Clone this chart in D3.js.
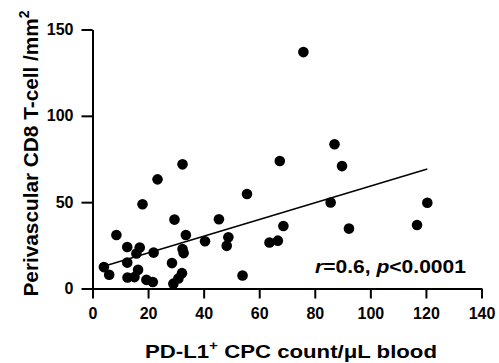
<!DOCTYPE html>
<html>
<head>
    <meta charset="utf-8">
    <script src="https://d3js.org/d3.v7.min.js"></script>
    <style>
        body { margin: 0; background: white; }
        text { font-family: "Liberation Sans", Arial, sans-serif; font-weight: bold; }
    </style>
</head>
<body>
    <div id="my_dataviz"></div>
    <script>
        // PD-L1+ CPC count per uL blood
        var cpcCount = [4.1, 6.0, 8.6, 12.5, 12.5, 12.6, 15.1, 15.8, 17.0, 16.4,
            18.0, 19.4, 21.7, 22.0, 23.4, 28.6, 29.1, 30.9, 32.2, 29.5,
            32.4, 32.4, 32.8, 33.6, 40.5, 45.5, 48.9, 48.3, 54.0, 55.6,
            63.7, 66.7, 67.4, 68.7, 75.9, 85.7, 87.1, 89.8, 92.3, 116.8, 120.5];
        // perivascular CD8 T-cell per mm2
        var cd8Density = [12.4, 8.0, 31.0, 24.0, 15.0, 6.4, 6.6, 20.3, 23.7, 10.8,
            48.8, 5.0, 3.8, 20.8, 63.2, 14.7, 2.8, 5.8, 8.9, 39.9,
            71.9, 22.9, 20.5, 31.0, 27.4, 40.1, 29.7, 24.7, 7.5, 54.7,
            26.6, 27.7, 73.8, 36.2, 136.9, 49.8, 83.5, 70.9, 34.7, 36.8, 49.7];

        // fitted line end points
        var fitX = [4.1, 120.5];
        var fitY = [12.9, 69.2];

        var xTicks = [0, 20, 40, 60, 80, 100, 120, 140];
        var yTicks = [0, 50, 100, 150];

        var margin = { top: 29.5, right: 17.5, bottom: 74.5, left: 92.5 },
            width = 499 - margin.left - margin.right,
            height = 363 - margin.top - margin.bottom;

        var svg = d3.select("#my_dataviz")
            .append("svg")
            .attr("width", 499)
            .attr("height", 363)
            .append("g")
            .attr("transform", "translate(" + margin.left + "," + margin.top + ")");

        var x = d3.scaleLinear().domain([0, 140]).range([0, width]);
        var y = d3.scaleLinear().domain([0, 150]).range([height, 0]);

        // axes
        var xAxis = svg.append("g")
            .attr("transform", "translate(0," + height + ")")
            .call(d3.axisBottom(x).tickValues(xTicks).tickSize(10).tickSizeOuter(0).tickPadding(9));
        var yAxis = svg.append("g")
            .call(d3.axisLeft(y).tickValues(yTicks).tickSize(11).tickSizeOuter(0).tickPadding(8));

        [xAxis, yAxis].forEach(function (a) {
            a.selectAll("path, line").attr("stroke", "black").attr("stroke-width", 2);
            a.selectAll("text").attr("fill", "black").style("font-size", "16px");
        });

        // points
        svg.selectAll("circle")
            .data(cpcCount)
            .enter()
            .append("circle")
            .attr("cx", function (d) { return x(d) })
            .attr("cy", function (d, i) { return y(cd8Density[i]) })
            .attr("r", 5.3)
            .attr("fill", "black");

        // regression line
        svg.append("line")
            .attr("x1", x(fitX[0]))
            .attr("y1", y(fitY[0]))
            .attr("x2", x(fitX[1]))
            .attr("y2", y(fitY[1]))
            .attr("stroke", "black")
            .attr("stroke-width", 1.5);

        // stats
        var stat = svg.append("text")
            .attr("x", 222.5)
            .attr("y", 243.5)
            .attr("textLength", 151)
            .attr("lengthAdjust", "spacingAndGlyphs")
            .style("font-size", "19px");
        stat.append("tspan").style("font-style", "italic").text("r");
        stat.append("tspan").text("=0.6, ");
        stat.append("tspan").style("font-style", "italic").text("p");
        stat.append("tspan").text("<0.0001");

        // axis titles
        var xt = svg.append("text")
            .attr("x", 198.5)
            .attr("y", 328.5)
            .attr("text-anchor", "middle")
            .attr("textLength", 292)
            .attr("lengthAdjust", "spacingAndGlyphs")
            .style("font-size", "19px");
        xt.append("tspan").text("PD-L1");
        xt.append("tspan").attr("dy", -8).style("font-size", "13px").text("+");
        xt.append("tspan").attr("dy", 8).text(" CPC count/\u03BCL blood");

        var yt = svg.append("text")
            .attr("transform", "translate(-54.5,124) rotate(-90)")
            .attr("text-anchor", "middle")
            .attr("textLength", 286)
            .attr("lengthAdjust", "spacingAndGlyphs")
            .style("font-size", "21px");
        yt.append("tspan").text("Perivascular CD8 T-cell /mm");
        yt.append("tspan").attr("dy", -9).style("font-size", "14px").text("2");
    </script>
</body>
</html>
